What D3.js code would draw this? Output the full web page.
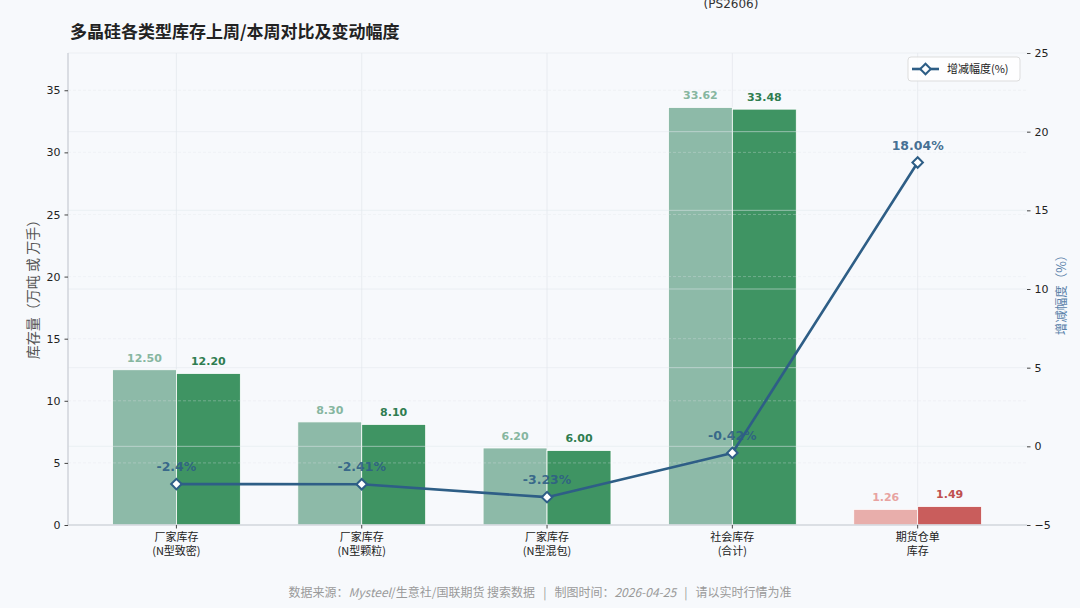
<!DOCTYPE html>
<html><head><meta charset="utf-8">
<script src="https://cdn.jsdelivr.net/npm/d3@7"></script>
<style>
html,body{margin:0;padding:0;background:#f7f9fc;}
svg{display:block;font-family:"DejaVu Sans","Noto Sans CJK SC",sans-serif;}
</style></head><body>
<svg id="c" width="1080" height="608"></svg>
<script>
const categories = [["厂家库存","(N型致密)"],["厂家库存","(N型颗粒)"],["厂家库存","(N型混包)"],["社会库存","(合计)"],["期货仓单","库存"]];
const lastWeek = [12.50, 8.30, 6.20, 33.62, 1.26];
const thisWeek = [12.20, 8.10, 6.00, 33.48, 1.49];
const changePct = [-2.4, -2.41, -3.23, -0.42, 18.04];
const changeLabels = ["-2.4%","-2.41%","-3.23%","-0.42%","18.04%"];
const leftTicks = [0,5,10,15,20,25,30,35];
const rightTicks = [-5,0,5,10,15,20,25];

const svg = d3.select("#c");
const L=68, R=1027, T=53, B=525;
const W=1080,H=608;
svg.append("rect").attr("width",W).attr("height",H).attr("fill","#f7f9fc");

const x = d3.scaleLinear().domain([-0.585,4.59]).range([L,R]);
const y = d3.scaleLinear().domain([0,38]).range([B,T]);
const y2 = d3.scaleLinear().domain([-5,25]).range([B,T]);
const bw = x(0.345)-x(0);
const idx = d3.range(categories.length);

svg.append("line").attr("x1",L).attr("x2",R).attr("y1",T).attr("y2",T).attr("stroke","#eceff3").attr("stroke-width",1);

svg.append("g").selectAll("line").data(idx).join("line")
  .attr("x1",d=>x(d)).attr("x2",d=>x(d)).attr("y1",T).attr("y2",B)
  .attr("stroke","#e4e8ee").attr("stroke-width",0.8);

const prevCol = i => i===4 ? "#e8aeab" : "#8dbaa8";
const curCol = i => i===4 ? "#c95d5c" : "#3f9463";
svg.append("g").selectAll("rect").data(idx).join("rect")
  .attr("x",i=>x(i)-bw).attr("width",bw)
  .attr("y",i=>y(lastWeek[i])).attr("height",i=>y(0)-y(lastWeek[i]))
  .attr("fill",prevCol).attr("stroke","#ffffff").attr("stroke-width",0.8);
svg.append("g").selectAll("rect").data(idx).join("rect")
  .attr("x",i=>x(i)).attr("width",bw)
  .attr("y",i=>y(thisWeek[i])).attr("height",i=>y(0)-y(thisWeek[i]))
  .attr("fill",curCol).attr("stroke","#ffffff").attr("stroke-width",0.8);

svg.append("g").selectAll("line").data(leftTicks.filter(t=>t>0)).join("line")
  .attr("x1",L).attr("x2",R).attr("y1",d=>y(d)).attr("y2",d=>y(d))
  .attr("stroke","#dfe4ea").attr("stroke-opacity",0.4).attr("stroke-dasharray","3,2").attr("stroke-width",0.8);
svg.append("g").selectAll("line").data(rightTicks.filter(t=>t>-5&&t<25)).join("line")
  .attr("x1",L).attr("x2",R).attr("y1",d=>y2(d)).attr("y2",d=>y2(d))
  .attr("stroke","#e2e6ec").attr("stroke-opacity",0.6).attr("stroke-width",0.9);

svg.append("g").selectAll("text").data(idx).join("text")
  .attr("x",i=>x(i)-bw/2).attr("y",i=>y(lastWeek[i])-8)
  .attr("text-anchor","middle").attr("font-size",11).attr("font-weight","bold")
  .attr("fill",i=>i===4?"#e8a3a1":"#86b6a0").text(i=>lastWeek[i].toFixed(2));
svg.append("g").selectAll("text").data(idx).join("text")
  .attr("x",i=>x(i)+bw/2).attr("y",i=>y(thisWeek[i])-8)
  .attr("text-anchor","middle").attr("font-size",11).attr("font-weight","bold")
  .attr("fill",i=>i===4?"#c0504f":"#2f7d50").text(i=>thisWeek[i].toFixed(2));

svg.append("line").attr("x1",L).attr("x2",L).attr("y1",T).attr("y2",B+1).attr("stroke","#d2d6dc").attr("stroke-width",1.6);
svg.append("line").attr("x1",L).attr("x2",R).attr("y1",B).attr("y2",B).attr("stroke","#d2d6dc").attr("stroke-width",1.6);

const ga = svg.append("g").attr("transform",`translate(${L},0)`)
  .call(d3.axisLeft(y).tickValues(leftTicks).tickSize(3.5).tickPadding(4));
ga.select(".domain").remove();
ga.selectAll("line").attr("stroke","#444");
ga.selectAll("text").attr("font-size",11).attr("fill","#222").attr("font-family","DejaVu Sans");

const gb = svg.append("g").attr("transform",`translate(${R},0)`)
  .call(d3.axisRight(y2).tickValues(rightTicks).tickSize(3.5).tickPadding(4));
gb.select(".domain").remove();
gb.selectAll("line").attr("stroke","#444");
gb.selectAll("text").attr("font-size",11).attr("fill","#222").attr("font-family","DejaVu Sans");

const gx = svg.append("g");
gx.selectAll("line").data(idx).join("line")
  .attr("x1",i=>x(i)).attr("x2",i=>x(i)).attr("y1",B).attr("y2",B+3.5).attr("stroke","#444");
gx.selectAll("text").data(idx).join("text")
  .attr("x",i=>x(i)).attr("y",B+16).attr("text-anchor","middle")
  .attr("font-size",11).attr("fill","#222").attr("font-family","Noto Sans CJK SC, DejaVu Sans")
  .each(function(i){
    const t=d3.select(this);
    t.append("tspan").attr("x",x(i)).attr("dy",0).text(categories[i][0]);
    t.append("tspan").attr("x",x(i)).attr("dy",14).text(categories[i][1]);
  });

const lineCol="#2e5e86";
svg.append("path").datum(idx)
  .attr("d",d3.line().x(i=>x(i)).y(i=>y2(changePct[i])))
  .attr("fill","none").attr("stroke",lineCol).attr("stroke-width",2.6).attr("stroke-linejoin","round");
svg.append("g").selectAll("path").data(idx).join("path")
  .attr("d",d3.symbol().type(d3.symbolSquare).size(55))
  .attr("transform",i=>`translate(${x(i)},${y2(changePct[i])}) rotate(45)`)
  .attr("fill","#fff").attr("stroke",lineCol).attr("stroke-width",2);
svg.append("g").selectAll("text").data(idx).join("text")
  .attr("x",i=>x(i)).attr("y",i=>y2(changePct[i])-13)
  .attr("text-anchor","middle").attr("font-size",12.5).attr("font-weight","bold")
  .attr("fill",lineCol).attr("fill-opacity",0.9).text(i=>changeLabels[i]);

const lg = svg.append("g");
lg.append("rect").attr("x",908).attr("y",57).attr("width",112).attr("height",24).attr("rx",3)
  .attr("fill","#ffffff").attr("fill-opacity",0.85).attr("stroke","#dddddd");
lg.append("line").attr("x1",912).attr("x2",939).attr("y1",69).attr("y2",69).attr("stroke",lineCol).attr("stroke-width",2.6);
lg.append("path").attr("d",d3.symbol().type(d3.symbolSquare).size(55)).attr("transform","translate(925.5,69) rotate(45)")
  .attr("fill","#fff").attr("stroke",lineCol).attr("stroke-width",2);
lg.append("text").attr("x",947).attr("y",73).attr("font-size",11).attr("fill","#222")
  .attr("font-family","Noto Sans CJK SC, DejaVu Sans").text("增减幅度(%)");

svg.append("text").attr("transform","translate(38,286) rotate(-90)").attr("text-anchor","middle")
  .attr("font-size",14).attr("fill","#555").attr("font-family","Noto Sans CJK SC, DejaVu Sans")
  .style("white-space","pre").text("库存量（万吨 或 万手）");
svg.append("text").attr("transform","translate(1066,292) rotate(-90)").attr("text-anchor","middle")
  .attr("font-size",12.5).attr("fill","#5a82aa").attr("font-family","Noto Sans CJK SC, DejaVu Sans")
  .text("增减幅度（%）");

svg.append("text").attr("x",70).attr("y",38).attr("font-size",17).attr("font-weight","bold")
  .attr("fill","#222").attr("font-family","Noto Sans CJK SC, DejaVu Sans").text("多晶硅各类型库存上周/本周对比及变动幅度");
svg.append("text").attr("x",731).attr("y",8).attr("text-anchor","middle").attr("font-size",12)
  .attr("fill","#333").attr("font-family","DejaVu Sans").text("(PS2606)");

const ft = svg.append("text").attr("x",540).attr("y",597).attr("text-anchor","middle").attr("font-size",12)
  .attr("fill","#9a9a9a").attr("font-family","Noto Sans CJK SC, DejaVu Sans").style("white-space","pre");
ft.append("tspan").text("数据来源：");
ft.append("tspan").attr("font-style","italic").text("Mysteel");
ft.append("tspan").text("/生意社/国联期货 搜索数据   |   制图时间：");
ft.append("tspan").attr("font-style","italic").text("2026-04-25");
ft.append("tspan").text("   |   请以实时行情为准");
</script>
</body></html>
